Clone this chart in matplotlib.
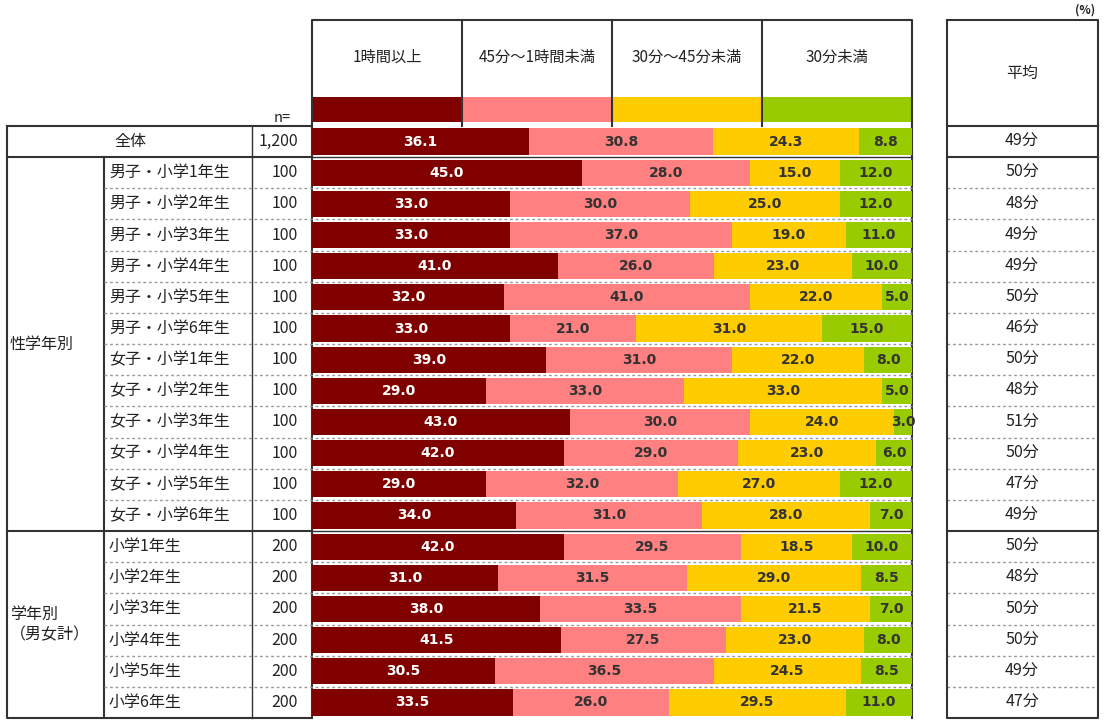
import numpy as np
import matplotlib
matplotlib.use("Agg")
import matplotlib.pyplot as plt

plt.rcParams['font.family'] = ['Noto Sans CJK JP', 'DejaVu Sans']

# data
series = ['1時間以上', '45分～1時間未満', '30分～45分未満', '30分未満']
colors = ['#800000', '#FF8080', '#FFCC00', '#99CC00']
txt_colors = ['white', '#333333', '#333333', '#333333']

rows = ['全体',
        '男子・小学1年生', '男子・小学2年生', '男子・小学3年生', '男子・小学4年生',
        '男子・小学5年生', '男子・小学6年生',
        '女子・小学1年生', '女子・小学2年生', '女子・小学3年生', '女子・小学4年生',
        '女子・小学5年生', '女子・小学6年生',
        '小学1年生', '小学2年生', '小学3年生', '小学4年生', '小学5年生', '小学6年生']
n_vals = ['1,200'] + ['100'] * 12 + ['200'] * 6
over_1h = [36.1, 45.0, 33.0, 33.0, 41.0, 32.0, 33.0, 39.0, 29.0, 43.0, 42.0, 29.0, 34.0,
           42.0, 31.0, 38.0, 41.5, 30.5, 33.5]
m45_60 = [30.8, 28.0, 30.0, 37.0, 26.0, 41.0, 21.0, 31.0, 33.0, 30.0, 29.0, 32.0, 31.0,
          29.5, 31.5, 33.5, 27.5, 36.5, 26.0]
m30_45 = [24.3, 15.0, 25.0, 19.0, 23.0, 22.0, 31.0, 22.0, 33.0, 24.0, 23.0, 27.0, 28.0,
          18.5, 29.0, 21.5, 23.0, 24.5, 29.5]
under30 = [8.8, 12.0, 12.0, 11.0, 10.0, 5.0, 15.0, 8.0, 5.0, 3.0, 6.0, 12.0, 7.0,
           10.0, 8.5, 7.0, 8.0, 8.5, 11.0]
averages = ['49分', '50分', '48分', '49分', '49分', '50分', '46分', '50分', '48分', '51分',
            '50分', '47分', '49分', '50分', '48分', '50分', '50分', '49分', '47分']

W, H = 1105, 726
fig = plt.figure(figsize=(W / 100, H / 100), dpi=100)

# overlay axes in pixel coords for the table
ov = fig.add_axes([0, 0, 1, 1])
ov.set_xlim(0, W)
ov.set_ylim(H, 0)
ov.axis('off')

top, bot = 126, 718
rh = (bot - top) / len(rows)
x0, x1 = 312, 912
fs = 11.5
tc = '#222222'

# bars axes
bx = fig.add_axes([x0 / W, 1 - bot / H, (x1 - x0) / W, (bot - top) / H])
bx.set_xlim(0, 100)
bx.set_ylim(len(rows) - 0.5, -0.5)
bx.axis('off')
data = np.array([over_1h, m45_60, m30_45, under30])
ypos = np.arange(len(rows))
left = np.zeros(len(rows))
for k in range(4):
    bx.barh(ypos, data[k], left=left, height=0.84, color=colors[k], edgecolor='none')
    for i in range(len(rows)):
        bx.text(left[i] + data[k][i] / 2, ypos[i], f'{data[k][i]:.1f}', ha='center', va='center',
                fontsize=10, fontweight='bold', color=txt_colors[k], family='DejaVu Sans')
    left += data[k]

lc = '#333333'
# header box
ov.plot([x0, x0, x1, x1], [top, 20, 20, top], color=lc, lw=1.5)
for xv in [462, 612, 762]:
    ov.plot([xv, xv], [20, top], color=lc, lw=1.5)
for k, s in enumerate(series):
    ov.text(x0 + 75 + k * 150, 57, s, ha='center', va='center', fontsize=11, color=tc)
# legend strip
for k in range(4):
    ov.add_patch(plt.Rectangle((x0 + k * 150, 97), 150, 25, color=colors[k], lw=0))
ov.text(282, 118, 'n=', ha='center', va='center', fontsize=10.5, color=tc)

# left table
ov.plot([7, 312, 312], [top, top, bot], color=lc, lw=1.5)
ov.plot([7, 7, 312], [top, bot, bot], color=lc, lw=1.5)
ov.plot([104, 104], [top + rh, bot], color=lc, lw=1.5)
ov.plot([252, 252], [top, bot], color=lc, lw=1)
ov.plot([x1, x1], [top, bot], color=lc, lw=1.5)
for i in range(1, len(rows)):
    y = top + i * rh
    if i in (1, 13):
        ov.plot([7, 312], [y, y], color=lc, lw=1.5)
        ov.plot([312, x1], [y, y], color=lc, lw=1)
        ov.plot([947, 1098], [y, y], color=lc, lw=1.5)
    else:
        ov.plot([104, x1], [y, y], color='#999999', lw=1, ls=(0, (2, 2)))
        ov.plot([947, 1098], [y, y], color='#999999', lw=1, ls=(0, (2, 2)))

for i, r in enumerate(rows):
    yc = top + (i + 0.5) * rh
    if i == 0:
        ov.text(130, yc, r, ha='center', va='center', fontsize=fs, color=tc)
    else:
        ov.text(109, yc, r, ha='left', va='center', fontsize=fs, color=tc)
    ov.text(298, yc, n_vals[i], ha='right', va='center', fontsize=fs, color=tc)
    ov.text(1022, yc, averages[i], ha='center', va='center', fontsize=fs, color=tc)

ov.text(10, top + rh * 7, '性学年別', ha='left', va='center', fontsize=fs, color=tc)
ov.text(10, top + rh * 16, '学年別\n（男女計）', ha='left', va='center', fontsize=fs,
        color=tc, linespacing=1.2)

# average box
ov.plot([947, 947, 1098, 1098, 947], [20, bot, bot, 20, 20], color=lc, lw=1.5)
ov.plot([947, 1098], [top, top], color=lc, lw=1.5)
ov.text(1022, 73, '平均', ha='center', va='center', fontsize=fs, color=tc)
ov.text(1085, 10, '(%)', ha='center', va='center', fontsize=8.5, fontweight='bold', color=tc)

fig.savefig('out.png', dpi=100)
